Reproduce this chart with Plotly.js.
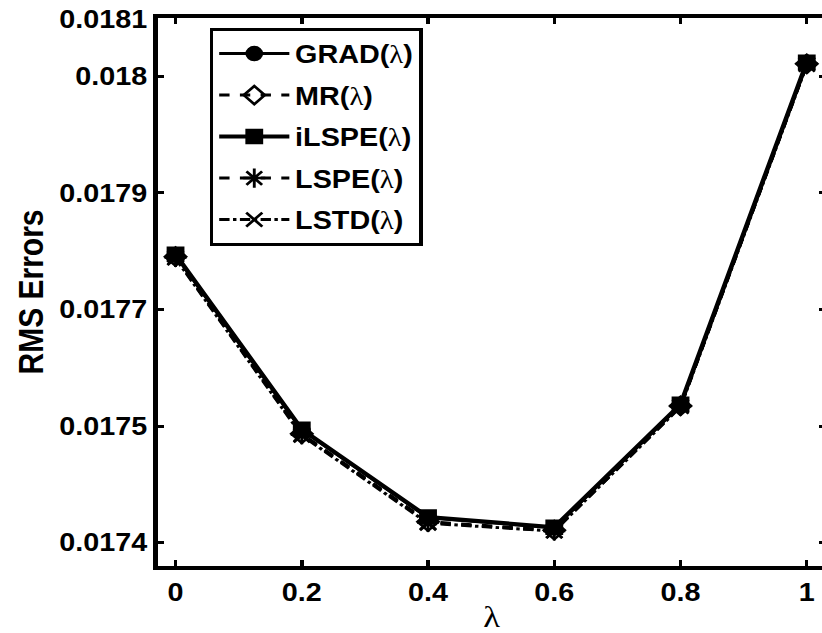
<!DOCTYPE html>
<html>
<head>
<meta charset="utf-8">
<script src="https://cdn.plot.ly/plotly-3.0.1.min.js"></script>
<style>
html, body { margin: 0; padding: 0; overflow: hidden; background: #fff; width: 822px; height: 633px; }
#chart { width: 718px; height: 633px; transform: scaleX(1.15); transform-origin: 0 0; }
</style>
</head>
<body>
<div id="chart"></div>
<script>
const lambdas = [0, 0.2, 0.4, 0.6, 0.8, 1];
const gradVals  = [0.017770, 0.017545, 0.017432, 0.017419, 0.017577, 0.018017];
const mrVals    = [0.017768, 0.017540, 0.017427, 0.017416, 0.017576, 0.018016];
const ilspeVals = [0.017771, 0.017546, 0.017433, 0.017420, 0.017578, 0.018018];
const lspeVals  = [0.017767, 0.017539, 0.017426, 0.017415, 0.017576, 0.018016];
const lstdVals  = [0.017766, 0.017538, 0.017425, 0.017415, 0.017575, 0.018015];
const seriesNames = ['GRAD', 'MR', 'iLSPE', 'LSPE', 'LSTD'];
const yTickVals = [0.0174, 0.01755, 0.0177, 0.01785, 0.018, 0.018074];
const yTickText = ['0.0174', '0.0175', '0.0177', '0.0179', '0.018', '0.0181'];
const xTickVals = [0, 0.2, 0.4, 0.6, 0.8, 1];
const xTickText = ['0', '0.2', '0.4', '0.6', '0.8', '1'];

const FONT = 'Liberation Sans, Arial, sans-serif';
const SERIF = 'Liberation Serif, Times New Roman, serif';
const lam = '<span style="font-family:' + SERIF + ';font-weight:normal">λ</span>';

function tr(base, y, dash, width, symbol, size, rank) {
  return {
    x: lambdas, y: y, name: base + '(' + lam + ')', type: 'scatter', mode: 'lines+markers',
    legendgroup: base, legendrank: rank,
    line: {color: '#000', width: width, dash: dash},
    marker: {symbol: symbol, size: size, color: '#000', line: {color: '#000', width: 2.5}}
  };
}

const traces = [
  tr(seriesNames[4], lstdVals, 'dashdot', 3, 'x-thin-open', 14, 5),
  tr(seriesNames[3], lspeVals, 'dash', 3, 'asterisk-open', 16, 4),
  tr(seriesNames[1], mrVals, 'dash', 3, 'diamond-open', 14, 2),
  tr(seriesNames[2], ilspeVals, 'solid', 4, 'square', 13, 3),
  tr(seriesNames[0], gradVals, 'solid', 3, 'circle', 13, 1)
];

const layout = {
  width: 718, height: 633,
  margin: {l: 137, r: 0, t: 18, b: 67},
  paper_bgcolor: '#fff', plot_bgcolor: '#fff',
  font: {family: FONT, color: '#000', size: 25, weight: 'bold'},
  showlegend: true,
  legend: {
    x: 0.0785, y: 0.982, xanchor: 'left', yanchor: 'top',
    bgcolor: '#fff', bordercolor: '#000', borderwidth: 3,
    font: {family: FONT, size: 25, color: '#000', weight: 'bold'},
    traceorder: 'grouped', tracegroupgap: 6, itemwidth: 61
  },
  xaxis: {
    range: [-0.0285, 1.030],
    tickmode: 'array', tickvals: xTickVals, ticktext: xTickText,
    ticks: 'inside', ticklen: 6, tickwidth: 3, tickcolor: '#000',
    showline: true, linewidth: 4, linecolor: '#000', mirror: 'ticks',
    showgrid: false, zeroline: false,
    tickfont: {family: FONT, size: 25, weight: 'bold'},
    ticklabelstandoff: 1,
    title: {text: 'λ', font: {family: SERIF, size: 30, weight: 'normal'}, standoff: 6}
  },
  yaxis: {
    range: [0.01737, 0.018075],
    tickmode: 'array', tickvals: yTickVals, ticktext: yTickText,
    ticks: 'inside', ticklen: 6, tickwidth: 3, tickcolor: '#000',
    showline: true, linewidth: 4, linecolor: '#000', mirror: 'ticks',
    showgrid: false, zeroline: false,
    tickfont: {family: FONT, size: 25, weight: 'bold'},
    ticklabelstandoff: 0,
    title: {text: 'RMS Errors', font: {family: FONT, size: 30, weight: 'bold'}, standoff: 6}
  }
};

Plotly.newPlot('chart', traces, layout, {displayModeBar: false, staticPlot: true});
</script>
</body>
</html>
